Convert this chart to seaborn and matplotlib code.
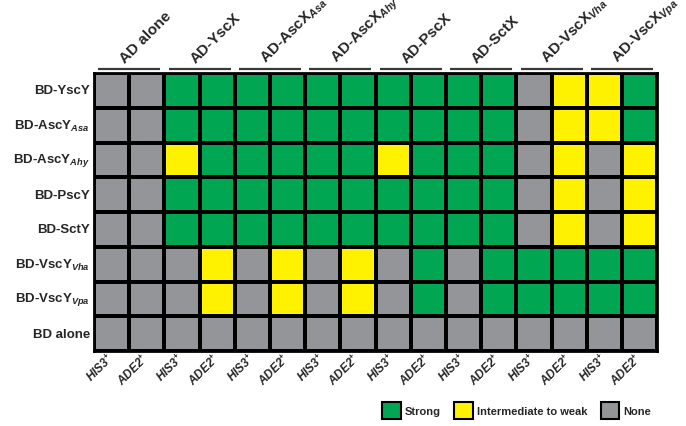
import numpy as np
import pandas as pd
import matplotlib
matplotlib.use("Agg")
import matplotlib.pyplot as plt
import matplotlib.transforms as mtransforms
from matplotlib.colors import ListedColormap
from matplotlib.patches import Patch
import seaborn as sns

# Data: 0 = none, 1 = intermediate to weak, 2 = strong
ad_groups = ["AD alone", "AD-YscX", "AD-AscX$_{Asa}$", "AD-AscX$_{Ahy}$",
             "AD-PscX", "AD-SctX", "AD-VscX$_{Vha}$", "AD-VscX$_{Vpa}$"]
reporters = ["HIS3$^{+}$", "ADE2$^{+}$"]
bd_rows = ["BD-YscY", "BD-AscY$_{Asa}$", "BD-AscY$_{Ahy}$", "BD-PscY",
           "BD-SctY", "BD-VscY$_{Vha}$", "BD-VscY$_{Vpa}$", "BD alone"]

yscy     = [0, 0, 2, 2, 2, 2, 2, 2, 2, 2, 2, 2, 0, 1, 1, 2]
ascy_asa = [0, 0, 2, 2, 2, 2, 2, 2, 2, 2, 2, 2, 0, 1, 1, 2]
ascy_ahy = [0, 0, 1, 2, 2, 2, 2, 2, 1, 2, 2, 2, 0, 1, 0, 1]
pscy     = [0, 0, 2, 2, 2, 2, 2, 2, 2, 2, 2, 2, 0, 1, 0, 1]
scty     = [0, 0, 2, 2, 2, 2, 2, 2, 2, 2, 2, 2, 0, 1, 0, 1]
vscy_vha = [0, 0, 0, 1, 0, 1, 0, 1, 0, 2, 0, 2, 2, 2, 2, 2]
vscy_vpa = [0, 0, 0, 1, 0, 1, 0, 1, 0, 2, 0, 2, 2, 2, 2, 2]
bd_alone = [0] * 16

levels = ["None", "Intermediate to weak", "Strong"]
colors = ["#939598", "#FFF200", "#00A651"]

sns.set_style("white")
plt.rcParams["font.family"] = ["Liberation Sans", "DejaVu Sans"]
plt.rcParams["font.weight"] = "bold"
plt.rcParams["mathtext.fontset"] = "custom"
plt.rcParams["mathtext.it"] = "Liberation Sans:italic:bold"
plt.rcParams["mathtext.rm"] = "Liberation Sans:bold"
plt.rcParams["mathtext.bf"] = "Liberation Sans:bold"

col_labels = [r for g in ad_groups for r in reporters]
grid = pd.DataFrame([yscy, ascy_asa, ascy_ahy, pscy, scty, vscy_vha, vscy_vpa, bd_alone],
                    index=bd_rows, columns=range(len(col_labels)))

fig = plt.figure(figsize=(6.86, 4.27), dpi=100)
ax = fig.add_axes([0.137, 0.1756, 0.821, 0.651])

sns.heatmap(grid, ax=ax, cmap=ListedColormap(colors), vmin=-0.5, vmax=2.5,
            cbar=False, linewidths=1.5, linecolor="black", square=False)

for s in ax.spines.values():
    s.set_visible(True)
    s.set_linewidth(2)
    s.set_color("black")

ax.set_xticks(np.arange(len(col_labels)) + 0.5)
ax.set_xticklabels(col_labels, rotation=45, ha="right", va="center",
                   rotation_mode="anchor", fontsize=8.5, fontstyle="italic",
                   fontweight="bold")
offset = mtransforms.ScaledTranslation(6 / 72, -1 / 72, fig.dpi_scale_trans)
for lbl in ax.get_xticklabels():
    lbl.set_transform(lbl.get_transform() + offset)

ax.set_yticklabels(bd_rows, rotation=0, fontsize=9.5, fontweight="bold")
ax.tick_params(length=0, pad=3)
ax.set_xlabel("")
ax.set_ylabel("")

# group labels and header lines
for g, name in enumerate(ad_groups):
    ax.plot([2 * g + 0.12, 2 * g + 1.88], [-0.12, -0.12], color="#3a3a3a",
            lw=1.6, clip_on=False, solid_capstyle="butt")
    ax.text(2 * g + 0.88, -0.3, name, rotation=45, ha="left", va="baseline",
            rotation_mode="anchor", fontsize=11, fontweight="bold")

handles = [Patch(facecolor=colors[i], edgecolor="black", linewidth=1.5, label=levels[i])
           for i in [2, 1, 0]]
fig.legend(handles=handles, loc="lower right", bbox_to_anchor=(0.962, -0.004),
           ncol=3, frameon=False, fontsize=8, handlelength=1.7, handleheight=1.9,
           handletextpad=0.35, columnspacing=1.2, borderpad=0.3)

fig.savefig("out.png", dpi=100)
